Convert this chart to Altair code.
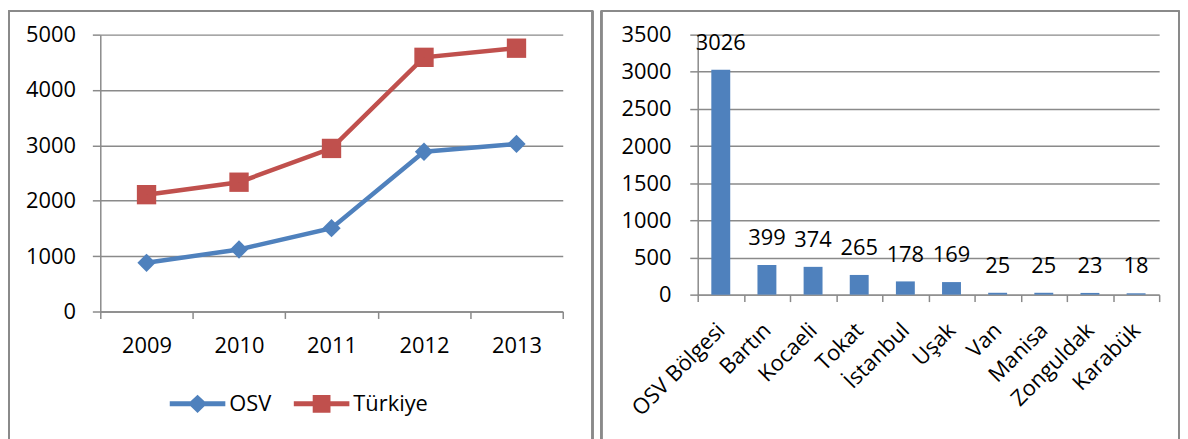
import altair as alt
import pandas as pd

# ---- data ----
years = ["2009", "2010", "2011", "2012", "2013"]
osv = [880, 1120, 1505, 2885, 3026]
turkiye = [2110, 2335, 2945, 4590, 4755]
series_names = ["OSV", "Türkiye"]

cities = ["OSV Bölgesi", "Bartın", "Kocaeli", "Tokat", "İstanbul",
          "Uşak", "Van", "Manisa", "Zonguldak", "Karabük"]
counts = [3026, 399, 374, 265, 178, 169, 25, 25, 23, 18]

left_ticks = [0, 1000, 2000, 3000, 4000, 5000]
right_ticks = [0, 500, 1000, 1500, 2000, 2500, 3000, 3500]

# ---- style ----
BLUE = "#4F81BD"
RED = "#C0504D"
GRID = "#8A8A8A"
FRAME = "#8A8A8A"
FONT = "Open Sans"
FS = 22

LW, LH = 466, 279
RW, RH = 465, 262
TOP = -24
BOTTOM = 410

line_df = pd.DataFrame({
    "year": years * 2,
    "value": osv + turkiye,
    "series": ["OSV"] * len(years) + ["Türkiye"] * len(years),
})
bar_df = pd.DataFrame({"city": cities, "count": counts})


def frame(left, right):
    kw = dict(color=FRAME, strokeWidth=1.5)
    l = alt.Chart(bar_df).mark_rule(**kw).encode(
        x=alt.value(left), y=alt.value(TOP), y2=alt.value(BOTTOM))
    r = alt.Chart(bar_df).mark_rule(**kw).encode(
        x=alt.value(right), y=alt.value(TOP), y2=alt.value(BOTTOM))
    t = alt.Chart(bar_df).mark_rule(**kw).encode(
        x=alt.value(left), x2=alt.value(right), y=alt.value(TOP))
    return [l, r, t]


# ---- left: line chart ----
xl = alt.X("year:N", sort=years,
           scale=alt.Scale(paddingInner=0, paddingOuter=0),
           axis=alt.Axis(title=None, labelAngle=0, tickBand="extent",
                         tickSize=7, labelPadding=17))
yl = alt.Y("value:Q", scale=alt.Scale(domain=[0, 5000], nice=False),
           axis=alt.Axis(title=None, values=left_ticks, grid=True, format="d",
                         tickSize=8, labelPadding=17))

diamond_path = ("M-1,-0.09L-0.25,-0.09L0,-0.33L0.25,-0.09L1,-0.09L1,0.09"
                "L0.25,0.09L0,0.33L-0.25,0.09L-1,0.09Z")
square_path = ("M-1,-0.09L-0.32,-0.09L-0.32,-0.32L0.32,-0.32L0.32,-0.09L1,-0.09"
               "L1,0.09L0.32,0.09L0.32,0.32L-0.32,0.32L-0.32,0.09L-1,0.09Z")

leg = alt.Legend(title=None, orient="bottom", offset=-137, padding=70,
                 direction="horizontal", symbolSize=3136, symbolStrokeWidth=0,
                 labelFont=FONT, labelFontSize=FS, labelColor="black",
                 labelOffset=4, columnPadding=22)

color_enc = alt.Color("series:N", scale=alt.Scale(domain=series_names, range=[BLUE, RED]),
                      legend=leg)

lines = alt.Chart(line_df).mark_line(strokeWidth=4.5).encode(
    x=xl, y=yl, color=color_enc)
pts_osv = alt.Chart(line_df).transform_filter(alt.datum.series == "OSV").mark_point(
    shape="diamond", filled=True, size=340, opacity=1).encode(
    x=xl, y=yl, color=color_enc)
pts_tr = alt.Chart(line_df).transform_filter(alt.datum.series == "Türkiye").mark_point(
    shape="square", filled=True, size=380, opacity=1).encode(
    x=xl, y=yl, color=color_enc)

legend_layer = alt.Chart(line_df).mark_point(filled=True, size=1).encode(
    x=xl, y=yl,
    color=color_enc,
    shape=alt.Shape("series:N",
                    scale=alt.Scale(domain=series_names, range=[diamond_path, square_path]),
                    legend=leg),
)

left = alt.layer(*frame(-92, 496), lines, pts_osv, pts_tr, legend_layer).properties(
    width=LW, height=LH)

# ---- right: bar chart ----
xr = alt.X("city:N", sort=cities,
           scale=alt.Scale(paddingInner=0, paddingOuter=0),
           axis=alt.Axis(title=None, labelAngle=-45, tickBand="extent",
                         labelBaseline="middle", labelAlign="right",
                         tickSize=7, labelPadding=25))
yr = alt.Y("count:Q", scale=alt.Scale(domain=[0, 3500], nice=False),
           axis=alt.Axis(title=None, values=right_ticks, grid=True, format="d",
                         tickSize=8, labelPadding=19))

bars = alt.Chart(bar_df).mark_bar(width=alt.RelativeBandSize(0.41), color=BLUE).encode(
    x=xr, y=yr)
labels = alt.Chart(bar_df).mark_text(dy=-20, baseline="alphabetic", font=FONT,
                                     fontSize=FS, color="black").encode(
    x=xr, y=yr, text="count:Q")

right = alt.layer(*frame(-97, 485), bars, labels).properties(width=RW, height=RH)

chart = alt.hconcat(left, right, spacing=7).properties(
    padding={"left": 0, "right": 0, "top": 0, "bottom": 0}
).configure_view(stroke=None).configure_axis(
    domainColor=GRID, domainWidth=1.5, tickColor=GRID, tickWidth=1.5,
    gridColor=GRID, gridWidth=1.5, labelFont=FONT, labelFontSize=FS,
    labelColor="black",
)

chart.save("out.html", embed_options={"renderer": "svg", "actions": False})
